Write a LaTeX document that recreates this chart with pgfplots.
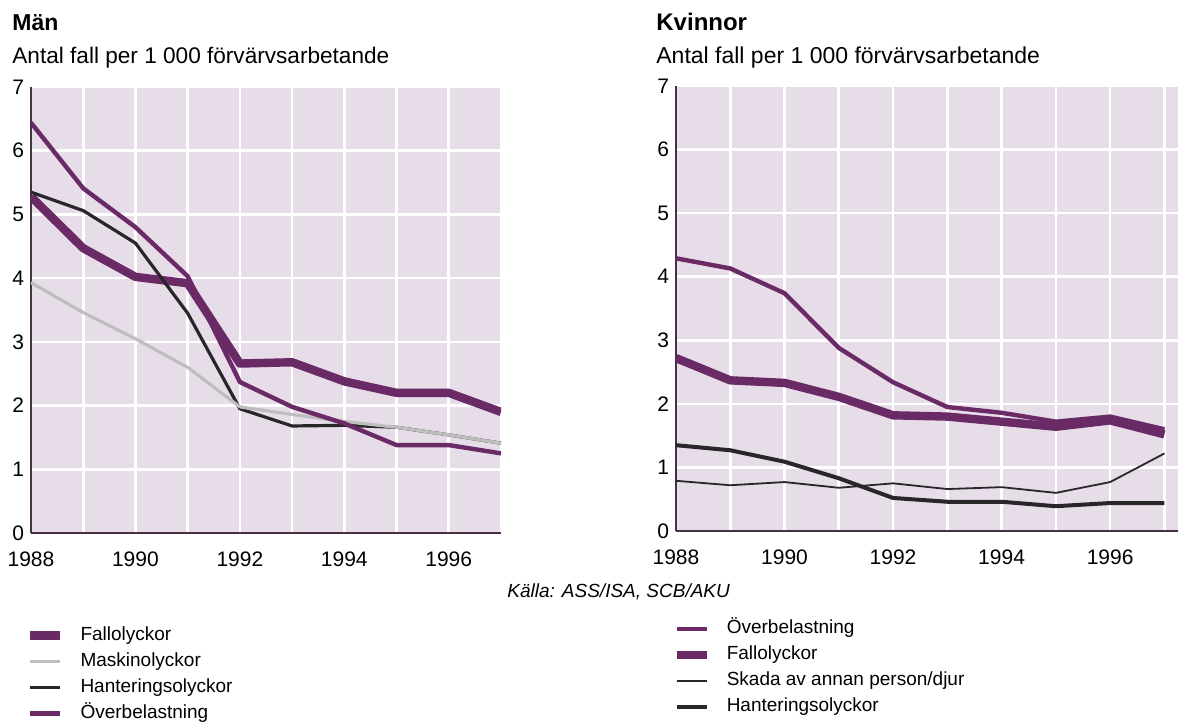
\documentclass[border=0pt]{standalone}
\usepackage{fontspec}
\setmainfont{Liberation Sans}
\usepackage{pgfplots}
\pgfplotsset{compat=1.18}

\definecolor{lila}{RGB}{106,42,102}
\definecolor{bakgrund}{RGB}{231,221,233}
\definecolor{gra}{RGB}{190,190,190}
\definecolor{svart}{RGB}{40,38,40}
\definecolor{axel}{RGB}{70,48,70}

\pgfplotsset{
  panel/.style={
    scale only axis,
    anchor=south west,
    axis x line=bottom,
    axis y line=left,
    axis line style={axel, line width=1pt, -},
    axis background/.style={fill=bakgrund},
    xmin=1988, ymin=0, ymax=7,
    xtick={1988,...,1997},
    xticklabels={1988,,1990,,1992,,1994,,1996,},
    ytick={0,...,7},
    major tick length=0pt,
    grid=major,
    major grid style={white, line width=1.3pt},
    tick label style={font=\fontsize{10.5}{12}\selectfont},
    x tick label style={yshift=-6pt},
    /pgf/number format/assume math mode=true,
    legend cell align=left,
    legend style={draw=none, fill=none, anchor=north west,
      font=\fontsize{9.5}{11}\selectfont,
      nodes={inner xsep=0pt, inner ysep=0pt, text height=7pt, text depth=2pt},
      row sep=4pt, column sep=8pt},
    legend image code/.code={\draw[#1] (0pt,0pt) -- (15pt,0pt);},
    every axis plot/.append style={line join=round},
  },
  fall/.style={lila, line width=4.2pt},
  over/.style={lila, line width=2.2pt},
  mask/.style={gra, line width=1.6pt},
  hant/.style={svart, line width=1.6pt},
}

\begin{document}
\begin{tikzpicture}
\useasboundingbox (0pt,0pt) rectangle (589pt,-361.5pt);

\node[anchor=base west, inner sep=0pt, font=\bfseries\fontsize{11.5}{13}\selectfont] at (6pt,-15pt) {Män};
\node[anchor=base west, inner sep=0pt, font=\fontsize{11.3}{13}\selectfont] at (6pt,-31.5pt) {Antal fall per 1 000 förvärvsarbetande};
\node[anchor=base west, inner sep=0pt, font=\bfseries\fontsize{12}{14}\selectfont] at (328pt,-15pt) {Kvinnor};
\node[anchor=base west, inner sep=0pt, font=\fontsize{11.5}{13}\selectfont] at (328pt,-31.5pt) {Antal fall per 1 000 förvärvsarbetande};
\node[anchor=base west, inner sep=0pt, font=\itshape\fontsize{9.5}{11}\selectfont] at (253.5pt,-298.5pt) {Källa: ASS/ISA, SCB/AKU};

% Män
\begin{axis}[panel, at={(15.5pt,-266.5pt)}, width=235pt, height=223pt,
  xmax=1997, legend style={at={(-0.024,-0.2)}}]
\addlegendimage{fall}\addlegendentry{Fallolyckor}
\addlegendimage{mask}\addlegendentry{Maskinolyckor}
\addlegendimage{hant}\addlegendentry{Hanteringsolyckor}
\addlegendimage{over}\addlegendentry{Överbelastning}
\addplot[fall, forget plot] coordinates {(1988,5.28)(1989,4.47)(1990,4.02)(1991,3.92)(1992,2.66)(1993,2.68)(1994,2.38)(1995,2.2)(1996,2.2)(1997,1.9)};
\addplot[hant, forget plot] coordinates {(1988,5.35)(1989,5.06)(1990,4.55)(1991,3.45)(1992,1.95)(1993,1.68)(1994,1.69)(1995,1.66)(1996,1.54)(1997,1.41)};
\addplot[mask, forget plot] coordinates {(1988,3.93)(1989,3.46)(1990,3.05)(1991,2.6)(1992,1.98)(1993,1.86)(1994,1.75)(1995,1.66)(1996,1.54)(1997,1.41)};
\addplot[over, forget plot] coordinates {(1988,6.44)(1989,5.41)(1990,4.8)(1991,4.03)(1992,2.37)(1993,1.98)(1994,1.72)(1995,1.38)(1996,1.38)(1997,1.25)};
\end{axis}

% Kvinnor
\begin{axis}[panel, at={(338pt,-265.5pt)}, width=251pt, height=222.5pt,
  xmax=1997.25, legend style={at={(-0.02,-0.19)}}]
\addplot[over] coordinates {(1988,4.29)(1989,4.13)(1990,3.74)(1991,2.88)(1992,2.34)(1993,1.95)(1994,1.86)(1995,1.72)(1996,1.8)(1997,1.6)};
\addlegendentry{Överbelastning}
\addplot[fall] coordinates {(1988,2.72)(1989,2.37)(1990,2.33)(1991,2.11)(1992,1.82)(1993,1.8)(1994,1.72)(1995,1.64)(1996,1.74)(1997,1.52)};
\addlegendentry{Fallolyckor}
\addplot[svart, line width=0.9pt] coordinates {(1988,0.79)(1989,0.72)(1990,0.77)(1991,0.68)(1992,0.75)(1993,0.66)(1994,0.69)(1995,0.6)(1996,0.77)(1997,1.22)};
\addlegendentry{Skada av annan person/djur}
\addplot[svart, line width=2pt] coordinates {(1988,1.35)(1989,1.27)(1990,1.09)(1991,0.83)(1992,0.52)(1993,0.46)(1994,0.46)(1995,0.39)(1996,0.44)(1997,0.44)};
\addlegendentry{Hanteringsolyckor}
\end{axis}
\end{tikzpicture}
\end{document}
